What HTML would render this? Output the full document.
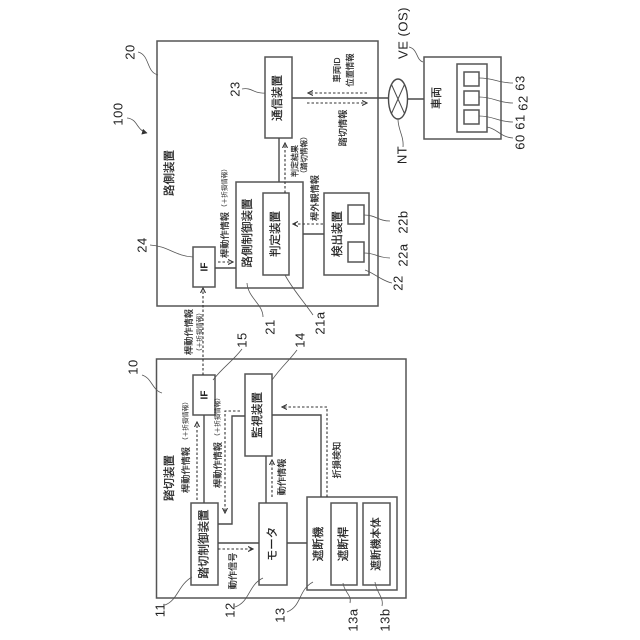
<!DOCTYPE html>
<html>
<head>
<meta charset="utf-8">
<style>
html,body{margin:0;padding:0;background:#fff;width:640px;height:640px;overflow:hidden}
svg{display:block}
rect{fill:none;stroke:#555;stroke-width:1.5}
.l{fill:none;stroke:#4a4a4a;stroke-width:1.4}
.d{fill:none;stroke:#333;stroke-width:1.1;stroke-dasharray:2.5 2}
.c{fill:none;stroke:#555;stroke-width:.8}
text{font-family:"Liberation Sans","Noto Sans CJK JP",sans-serif;fill:#222;text-anchor:middle;dominant-baseline:central}
.j{font-size:11.500px;stroke:#222;stroke-width:.2}
.s{font-size:9.200px;stroke:#222;stroke-width:.15}
.x{font-size:6.500px}
.n{font-size:13px;letter-spacing:.5px}
</style>
</head>
<body>
<svg width="640" height="640" viewBox="0 0 640 640" xmlns="http://www.w3.org/2000/svg">
<defs>
<marker id="a" markerWidth="6" markerHeight="6" refX="5" refY="3" orient="auto" markerUnits="userSpaceOnUse"><path d="M0 .5L5 3L0 5.500" fill="none" stroke="#333" stroke-width="1.1"/></marker>
<marker id="b" markerWidth="6" markerHeight="6" refX="5" refY="3" orient="auto" markerUnits="userSpaceOnUse"><path d="M0 0L5.500 3L0 6z" fill="#333"/></marker>
</defs>

<!-- boxes: device 10 -->
<rect x="156.500" y="359" width="249.500" height="239"/>
<rect x="193" y="375" width="22" height="40"/>
<rect x="245" y="374" width="27" height="82"/>
<rect x="191" y="503" width="27" height="82"/>
<rect x="259" y="503" width="28" height="82"/>
<rect x="307" y="497" width="90" height="93"/>
<rect x="331" y="503" width="26" height="82"/>
<rect x="363" y="503" width="27" height="82"/>

<!-- boxes: device 20 -->
<rect x="157" y="41" width="221" height="265"/>
<rect x="193" y="247" width="22" height="40"/>
<rect x="236" y="182" width="67" height="106"/>
<rect x="263" y="193" width="26" height="82"/>
<rect x="324" y="193" width="45" height="82"/>
<rect x="348" y="242" width="16" height="20"/>
<rect x="348" y="205" width="16" height="19"/>
<rect x="265" y="57" width="27" height="81"/>

<!-- vehicle -->
<rect x="424" y="57" width="77" height="82"/>
<rect x="457" y="64" width="30" height="68"/>
<rect x="464" y="72" width="15" height="14"/>
<rect x="464" y="91" width="15" height="14"/>
<rect x="464" y="110" width="15" height="14"/>

<!-- solid connectors -->
<path class="l" d="M204 415V503"/>
<path class="l" d="M218 524H232V416H245"/>
<path class="l" d="M218 543H259"/>
<path class="l" d="M266 456V503"/>
<path class="l" d="M287 543H307"/>
<path class="l" d="M321 497V415H272"/>
<path class="l" d="M215 268H236"/>
<path class="l" d="M279 138V182"/>
<path class="l" d="M303 234H324"/>
<path class="l" d="M292 98H388.500"/>
<path class="l" d="M407.500 99H424"/>
<ellipse cx="398" cy="99" rx="9.500" ry="20" class="l"/>
<path class="l" style="stroke-width:1" d="M391.500 84.500L404.500 113.500M404.500 84.500L391.500 113.500"/>

<!-- dashed connectors -->
<path class="d" d="M197 500V422" marker-end="url(#a)"/>
<path class="d" d="M240 411H225V513" marker-end="url(#a)"/>
<path class="d" d="M218 549H253" marker-end="url(#a)"/>
<path class="d" d="M272 497V460" marker-end="url(#a)"/>
<path class="d" d="M327 497V407H282" marker-end="url(#a)"/>
<path class="d" d="M203 375V288" marker-end="url(#a)"/>
<path class="d" d="M218 262H233" marker-end="url(#a)"/>
<path class="d" d="M285 193V143" marker-end="url(#a)"/>
<path class="d" d="M323 224H293" marker-end="url(#a)"/>
<path class="d" d="M367 93H308" marker-end="url(#a)"/>
<path class="d" d="M307 103H367" marker-end="url(#a)"/>

<!-- leaders -->
<path class="c" d="M165 605C178 600 178 585 192 577"/>
<path class="c" d="M235 607C250 602 248 585 263 578"/>
<path class="c" d="M287 612C302 606 298 590 313 582"/>
<path class="c" d="M350 603C352 595 344 592 343 583"/>
<path class="c" d="M382 606C384 597 376 592 375 582"/>
<path class="c" d="M142 375C152 378 152 390 162 393"/>
<path class="c" d="M242 349C232 362 224 366 213 380"/>
<path class="c" d="M297 350C288 362 282 366 272 380"/>
<path class="c" d="M138 52C150 55 146 72 158 75"/>
<path class="c" d="M127 118C138 119 136 130 147 133" marker-end="url(#b)"/>
<path class="c" d="M242 89C252 87 254 94 265 93"/>
<path class="c" d="M150 245C168 246 175 256 193 257"/>
<path class="c" d="M263 317C263 304 248 298 247 283"/>
<path class="c" d="M313 315C305 303 293 290 285 275"/>
<path class="c" d="M392 283C382 281 374 273 365 270"/>
<path class="c" d="M390 258C378 258 376 253 364 253"/>
<path class="c" d="M390 221C378 221 376 215 364 215"/>
<path class="c" d="M513 83C498 83 494 78 479 78"/>
<path class="c" d="M513 103C498 103 494 97 479 97"/>
<path class="c" d="M513 122C498 122 494 116 479 116"/>
<path class="c" d="M513 138C500 137 498 129 487 127"/>
<path class="c" d="M409 47C418 49 416 60 423 62"/>
<path class="c" d="M398 119C398 130 404 136 403 147"/>

<!-- labels device 10 -->
<text class="j" transform="translate(170 478) rotate(-90)">踏切装置</text>
<text class="s" transform="translate(186 470) rotate(-90)">桿動作情報</text>
<text class="x" transform="translate(186 421) rotate(-90)">（＋折損情報）</text>
<text class="s" transform="translate(218 465) rotate(-90)">桿動作情報</text>
<text class="x" transform="translate(218 417) rotate(-90)">（＋折損情報）</text>
<text class="s" transform="translate(282 477) rotate(-90)">動作情報</text>
<text class="s" transform="translate(337 460) rotate(-90)">折損検知</text>
<text class="s" transform="translate(233 571) rotate(-90)">動作信号</text>
<text transform="translate(205 395) rotate(-90)" style="font-weight:bold;font-size:10px">IF</text>
<text class="j" transform="translate(258 415) rotate(-90)">監視装置</text>
<text class="j" transform="translate(204.500 544) rotate(-90)">踏切制御装置</text>
<text class="j" transform="translate(273 544) rotate(-90)">モータ</text>
<text class="j" transform="translate(319 544) rotate(-90)">遮断機</text>
<text class="j" transform="translate(344 544) rotate(-90)">遮断桿</text>
<text class="j" transform="translate(376.500 544) rotate(-90)" style="font-size:10.700px">遮断機本体</text>

<!-- between -->
<text class="s" transform="translate(189 332) rotate(-90)">桿動作情報</text>
<text class="x" transform="translate(200 332) rotate(-90)">（＋折損情報）</text>

<!-- labels device 20 -->
<text class="j" transform="translate(170 173) rotate(-90)">路側装置</text>
<text transform="translate(205 267) rotate(-90)" style="font-weight:bold;font-size:10px">IF</text>
<text class="s" transform="translate(225 235) rotate(-90)">桿動作情報</text>
<text class="x" transform="translate(225 188) rotate(-90)">（＋折損情報）</text>
<text class="j" transform="translate(248 233) rotate(-90)">路側制御装置</text>
<text class="j" transform="translate(276 234) rotate(-90)">判定装置</text>
<text class="j" transform="translate(338 234) rotate(-90)">検出装置</text>
<text class="j" transform="translate(278 98) rotate(-90)">通信装置</text>
<text class="s" style="font-size:8px" transform="translate(295 161) rotate(-90)">判定結果</text>
<text class="s" style="font-size:7.500px" transform="translate(304 155) rotate(-90)">（踏切情報）</text>
<text class="s" transform="translate(315 198) rotate(-90)">桿外観情報</text>
<text class="s" style="font-size:8.300px" transform="translate(337 70) rotate(-90)">車両ID</text>
<text class="s" style="font-size:8.300px" transform="translate(350 70) rotate(-90)">位置情報</text>
<text class="s" transform="translate(343 128) rotate(-90)">踏切情報</text>
<text class="j" transform="translate(437 98) rotate(-90)" style="font-size:11px">車両</text>

<!-- reference numerals -->
<text class="n" transform="translate(160 610) rotate(-90)">11</text>
<text class="n" transform="translate(230 610) rotate(-90)">12</text>
<text class="n" transform="translate(280 615) rotate(-90)">13</text>
<text class="n" transform="translate(353 620) rotate(-90)">13a</text>
<text class="n" transform="translate(385 620) rotate(-90)">13b</text>
<text class="n" transform="translate(133 367) rotate(-90)">10</text>
<text class="n" transform="translate(242 340) rotate(-90)">15</text>
<text class="n" transform="translate(300 340) rotate(-90)">14</text>
<text class="n" transform="translate(130 52) rotate(-90)">20</text>
<text class="n" transform="translate(118 114) rotate(-90)">100</text>
<text class="n" transform="translate(235 89) rotate(-90)">23</text>
<text class="n" transform="translate(142 245) rotate(-90)">24</text>
<text class="n" transform="translate(270 327) rotate(-90)">21</text>
<text class="n" transform="translate(320 323) rotate(-90)">21a</text>
<text class="n" transform="translate(398 283) rotate(-90)">22</text>
<text class="n" transform="translate(403 255) rotate(-90)">22a</text>
<text class="n" transform="translate(403 222) rotate(-90)">22b</text>
<text class="n" transform="translate(520 83) rotate(-90)">63</text>
<text class="n" transform="translate(523 103) rotate(-90)">62</text>
<text class="n" transform="translate(520 122) rotate(-90)">61</text>
<text class="n" transform="translate(520 142) rotate(-90)">60</text>
<text class="n" transform="translate(403 33) rotate(-90)">VE (OS)</text>
<text class="n" transform="translate(402 155) rotate(-90)">NT</text>
</svg>
</body>
</html>
